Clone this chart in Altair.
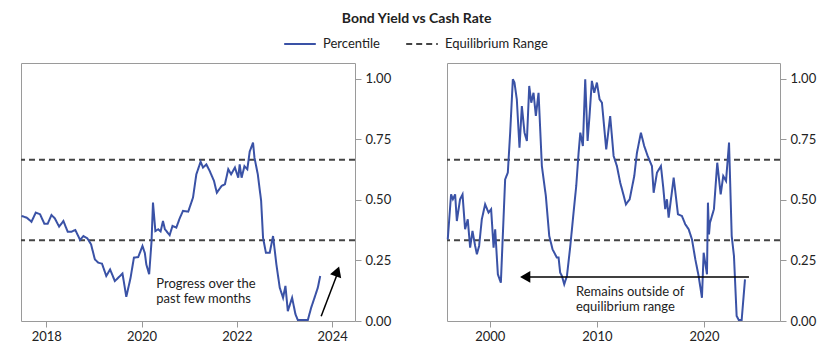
import altair as alt
import pandas as pd

# ---------------- data ----------------
left_years = [2017.48, 2017.59, 2017.69, 2017.78, 2017.87, 2017.96, 2018.03, 2018.11, 2018.18, 2018.27,
              2018.36, 2018.45, 2018.53, 2018.61, 2018.71, 2018.78, 2018.86, 2018.94, 2019.02, 2019.09,
              2019.17, 2019.26, 2019.34, 2019.44, 2019.60, 2019.68, 2019.77, 2019.84, 2019.93, 2020.02,
              2020.07, 2020.10, 2020.16, 2020.21, 2020.24, 2020.29, 2020.35, 2020.40, 2020.45, 2020.49,
              2020.59, 2020.65, 2020.73, 2020.80, 2020.87, 2020.98, 2021.08, 2021.15, 2021.24, 2021.29,
              2021.36, 2021.43, 2021.52, 2021.58, 2021.68, 2021.75, 2021.82, 2021.88, 2021.96, 2022.03,
              2022.06, 2022.10, 2022.16, 2022.22, 2022.27, 2022.34, 2022.37, 2022.44, 2022.51, 2022.55,
              2022.61, 2022.69, 2022.76, 2022.83, 2022.90, 2022.97, 2023.02, 2023.07, 2023.16, 2023.23,
              2023.28, 2023.49, 2023.56, 2023.63, 2023.70, 2023.75]
left_values = [0.434, 0.427, 0.410, 0.448, 0.441, 0.402, 0.402, 0.438, 0.424, 0.390,
               0.413, 0.369, 0.369, 0.376, 0.335, 0.351, 0.342, 0.317, 0.255, 0.241,
               0.237, 0.186, 0.213, 0.165, 0.196, 0.100, 0.179, 0.262, 0.264, 0.310,
               0.280, 0.234, 0.193, 0.330, 0.489, 0.372, 0.379, 0.370, 0.413, 0.379,
               0.355, 0.393, 0.386, 0.424, 0.455, 0.452, 0.510, 0.606, 0.658, 0.634,
               0.647, 0.620, 0.579, 0.530, 0.558, 0.565, 0.627, 0.606, 0.634, 0.592,
               0.647, 0.592, 0.640, 0.627, 0.700, 0.737, 0.675, 0.606, 0.496, 0.344,
               0.282, 0.282, 0.351, 0.234, 0.138, 0.096, 0.145, 0.041, 0.096, 0.028,
               0.004, 0.004, 0.055, 0.096, 0.138, 0.186]

right_years = [1996.07, 1996.38, 1996.55, 1996.76, 1996.92, 1997.22, 1997.45, 1997.69, 1997.94, 1998.16,
               1998.38, 1998.63, 1998.79, 1999.00, 1999.25, 1999.56, 1999.88, 2000.12, 2000.35, 2000.50,
               2000.75, 2001.03, 2001.43, 2001.68, 2001.90, 2002.15, 2002.30, 2002.52, 2002.77, 2002.99,
               2003.24, 2003.46, 2003.68, 2003.87, 2004.08, 2004.30, 2004.55, 2004.86, 2005.23, 2005.55,
               2005.86, 2006.26, 2006.42, 2006.57, 2006.73, 2006.95, 2007.20, 2007.50, 2007.82, 2008.07,
               2008.29, 2008.45, 2008.69, 2008.91, 2009.13, 2009.31, 2009.53, 2009.75, 2010.00, 2010.25,
               2010.47, 2010.87, 2011.24, 2011.56, 2011.87, 2012.18, 2012.43, 2012.71, 2013.06, 2013.49,
               2013.74, 2014.11, 2014.42, 2014.74, 2015.14, 2015.30, 2015.61, 2015.98, 2016.20, 2016.38,
               2016.54, 2016.70, 2017.17, 2017.57, 2017.94, 2018.25, 2018.57, 2018.88, 2019.19, 2019.50,
               2019.81, 2019.97, 2020.28, 2020.37, 2020.47, 2020.56, 2020.93, 2021.24, 2021.56, 2021.80,
               2022.06, 2022.34, 2022.59, 2022.80, 2023.05, 2023.25, 2023.52, 2023.83]
right_values = [0.337, 0.523, 0.503, 0.523, 0.413, 0.503, 0.523, 0.379, 0.420, 0.303,
                0.372, 0.310, 0.276, 0.310, 0.420, 0.482, 0.448, 0.462, 0.303, 0.379,
                0.193, 0.158, 0.585, 0.613, 0.778, 0.999, 0.985, 0.916, 0.716, 0.888,
                0.778, 0.744, 0.971, 0.902, 0.943, 0.847, 0.943, 0.640, 0.517, 0.351,
                0.296, 0.262, 0.262, 0.200, 0.186, 0.152, 0.186, 0.303, 0.448, 0.558,
                0.695, 0.778, 0.723, 0.999, 0.744, 0.847, 0.992, 0.943, 0.985, 0.916,
                0.902, 0.709, 0.847, 0.682, 0.640, 0.571, 0.530, 0.482, 0.503, 0.599,
                0.695, 0.778, 0.723, 0.682, 0.640, 0.530, 0.613, 0.640, 0.550, 0.462,
                0.503, 0.427, 0.592, 0.441, 0.434, 0.400, 0.379, 0.337, 0.255, 0.186,
                0.096, 0.282, 0.193, 0.489, 0.358, 0.406, 0.462, 0.654, 0.523, 0.599,
                0.579, 0.737, 0.351, 0.269, 0.021, 0.004, 0.004, 0.172]

eq_levels = [1 / 3, 2 / 3]
series_names = ["Percentile", "Equilibrium Range"]
series_colors = ["#3a52a6", "#444444"]
series_dashes = [[1, 0], [6, 4]]

y_ticks = [0, 0.25, 0.5, 0.75, 1.0]
left_ticks = [2018, 2020, 2022, 2024]
right_ticks = [2000, 2010, 2020]
left_domain = [2017.47, 2024.48]
right_domain = [1996.0, 2027.1]
y_domain = [0, 1.066]

# annotations
left_note = ["Progress over the", "past few months"]
left_note_pos = [2020.31, 0.153]
left_arrow = [2023.77, 0.02, 2024.12, 0.2]          # x, y, x2, y2
left_head = [2024.11, 0.205]
right_note = ["Remains outside of", "equilibrium range"]
right_note_pos = [2008.04, 0.12]
right_arrow = [2024.2, 0.182, 2003.4, 0.182]
right_head = [2003.3, 0.182]

FONT = "Lato"
TXT = "#222222"

color_scale = alt.Scale(domain=series_names, range=series_colors)
dash_scale = alt.Scale(domain=series_names, range=series_dashes)


def panel(years, values, domain, ticks, width, note, note_pos, arrow, head, head_shape, head_angle):
    line_df = pd.DataFrame({"year": years, "value": values, "series": series_names[0]})
    eq_df = pd.DataFrame({"value": eq_levels, "series": series_names[1]})
    xs = alt.Scale(domain=domain, nice=False, zero=False)
    ys = alt.Scale(domain=y_domain, nice=False)
    xaxis = alt.Axis(values=ticks, format="d", title=None, grid=False, domain=False,
                     tickColor="#999999", tickSize=6, labelFontSize=13, labelColor=TXT,
                     labelFont=FONT, labelPadding=3)
    yaxis = alt.Axis(orient="right", values=y_ticks, format=".2f", title=None, grid=False,
                     domain=False, tickColor="#999999", tickSize=6, labelFontSize=13,
                     labelColor=TXT, labelFont=FONT, labelPadding=4)
    color = alt.Color("series:N", scale=color_scale, title=None)
    dash = alt.StrokeDash("series:N", scale=dash_scale, title=None)

    eq = alt.Chart(eq_df).mark_rule(strokeWidth=2).encode(
        y=alt.Y("value:Q", scale=ys, axis=yaxis), color=color, strokeDash=dash)
    line = alt.Chart(line_df).mark_line(strokeWidth=2).encode(
        x=alt.X("year:Q", scale=xs, axis=xaxis),
        y=alt.Y("value:Q", scale=ys),
        color=color, strokeDash=dash)

    note_df = pd.DataFrame({"x": [note_pos[0]], "y": [note_pos[1]], "t": ["\n".join(note)]})
    text = alt.Chart(note_df).mark_text(align="left", baseline="middle", fontSize=13,
                                        font=FONT, color=TXT, lineBreak="\n",
                                        lineHeight=15).encode(
        x=alt.X("x:Q", scale=xs), y=alt.Y("y:Q", scale=ys), text="t:N")
    arr_df = pd.DataFrame({"x": [arrow[0]], "y": [arrow[1]], "x2": [arrow[2]], "y2": [arrow[3]]})
    arr = alt.Chart(arr_df).mark_rule(color="black", strokeWidth=1.5).encode(
        x=alt.X("x:Q", scale=xs), y=alt.Y("y:Q", scale=ys), x2="x2:Q", y2="y2:Q")
    head_df = pd.DataFrame({"x": [head[0]], "y": [head[1]]})
    hd = alt.Chart(head_df).mark_point(shape=head_shape, filled=True, color="black",
                                       size=140, opacity=1, angle=head_angle).encode(
        x=alt.X("x:Q", scale=xs), y=alt.Y("y:Q", scale=ys))
    return alt.layer(eq, line, text, arr, hd).properties(width=width, height=258)


left = panel(left_years, left_values, left_domain, left_ticks, 334, left_note, left_note_pos,
             left_arrow, left_head, "triangle-up", 20)
right = panel(right_years, right_values, right_domain, right_ticks, 333, right_note, right_note_pos,
              right_arrow, right_head, "triangle-left", 0)

chart = alt.hconcat(left, right, spacing=51).properties(
    title=alt.Title("Bond Yield vs Cash Rate", font=FONT, fontSize=14, fontWeight="bold",
                    color=TXT, anchor="middle", offset=1),
    padding={"left": 8, "top": 4, "right": 5, "bottom": 5},
).configure_view(stroke="#9a9a9a", strokeWidth=1).configure_legend(
    orient="none", direction="horizontal", legendX=262, legendY=-36,
    symbolType="stroke", symbolSize=1000, symbolStrokeWidth=2, labelFontSize=13,
    labelFont=FONT, labelColor=TXT, columnPadding=22, labelOffset=6
).configure_concat(spacing=51)

chart.save("out.html", embed_options={"renderer": "svg", "actions": False})
